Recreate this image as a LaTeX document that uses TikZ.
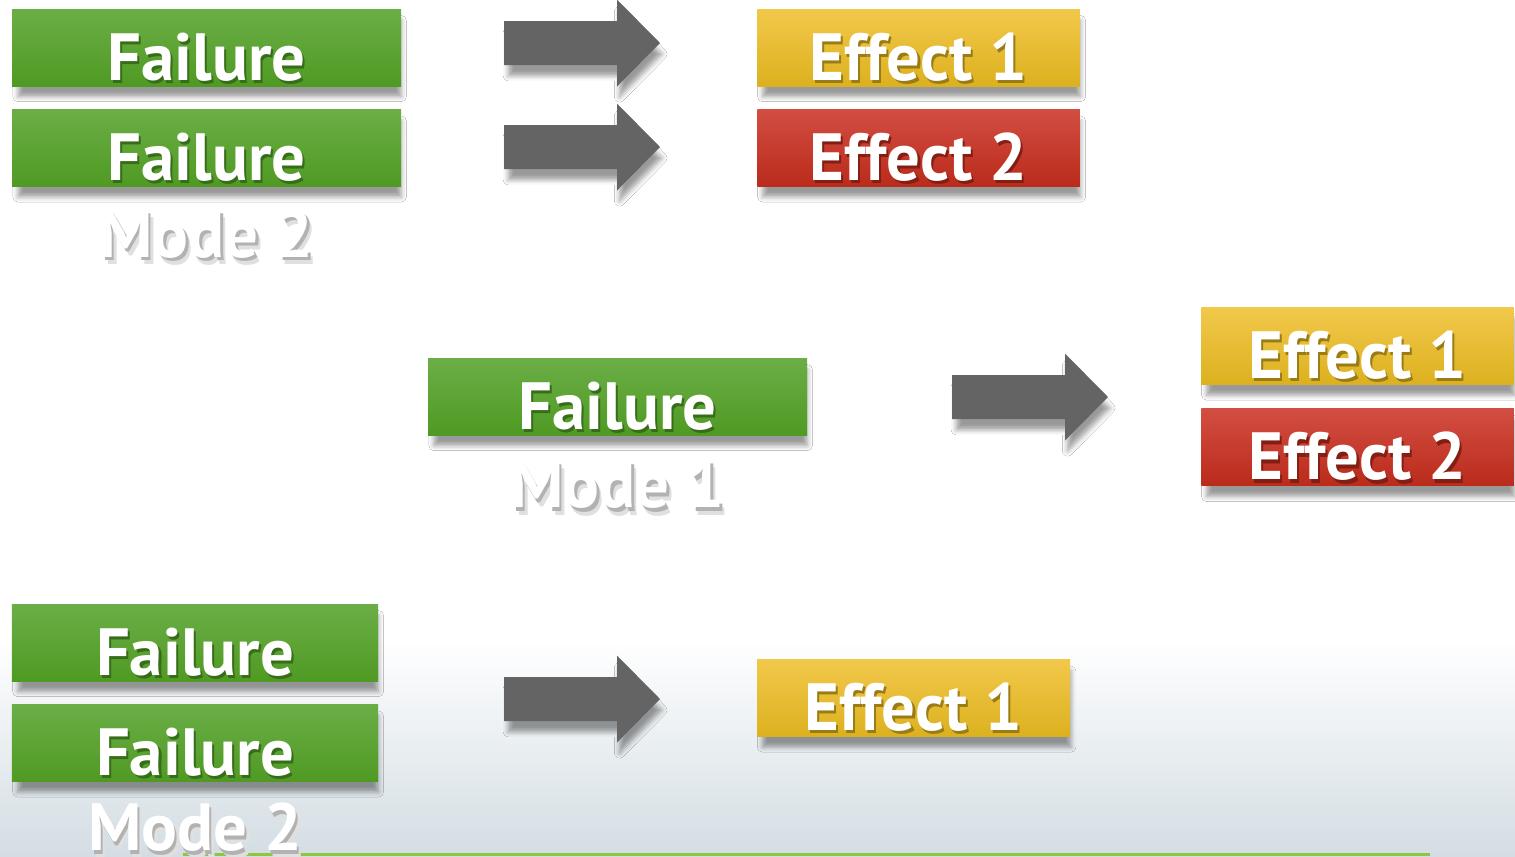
\documentclass[tikz,border=0pt]{standalone}
\usepackage{fontspec}
\setmainfont{PT Sans}
\usepackage{tikz}
\usetikzlibrary{positioning, shadows.blur}
\usepackage{color}

\definecolor{greentop}{HTML}{6BAE47}
\definecolor{greenbot}{HTML}{4F9A23}
\definecolor{yellowtop}{HTML}{F2C84B}
\definecolor{yellowbot}{HTML}{DCB11F}
\definecolor{redtop}{HTML}{D24E42}
\definecolor{redbot}{HTML}{BA2B1B}
\definecolor{arrowgray}{HTML}{646464}
\definecolor{bgblue}{HTML}{D3DDE3}
\definecolor{linegreen}{HTML}{8DC63F}

% white text with a small dark copy behind it
\newcommand{\shtext}[2]{\leavevmode\rlap{\hspace{0.6pt}\raisebox{-0.9pt}{\textcolor{#1}{#2}}}#2}
\newcommand{\softtext}[1]{\leavevmode\rlap{\hspace{1.4pt}\raisebox{-2.1pt}{\textcolor{black!12}{#1}}}\rlap{\hspace{0.7pt}\raisebox{-1.1pt}{\textcolor{black!30}{#1}}}#1}

\begin{document}
\begin{tikzpicture}[
            node distance = 0.22cm, % gap between stacked boxes
            boxshadow/.style = {blur shadow={shadow xshift=0.9pt, shadow yshift=-3.2pt,
                shadow scale=0.985, shadow blur radius=1.5pt, shadow opacity=40}},
            blockarrow/.pic = {
                \fill[arrowgray, boxshadow] (0,-0.22) -- (1.13,-0.22) -- (1.13,-0.435)
                    -- (1.56,0) -- (1.13,0.435) -- (1.13,0.22) -- (0,0.22) -- cycle;
            }
        ]

        \tikzstyle{box}=[
            rectangle,
            inner sep = 0pt,
            minimum height = 0.77cm,
            text height = 0.71cm,
            text depth = 0.06cm,
            text = white,
            font = \bfseries\fontsize{19}{22}\selectfont,
            boxshadow
        ]
        \tikzstyle{failbox}=[box, top color=greentop, bottom color=greenbot]
        \tikzstyle{yellowbox}=[box, top color=yellowtop, bottom color=yellowbot]
        \tikzstyle{redbox}=[box, top color=redtop, bottom color=redbot]
        \tikzstyle{mode}=[
            anchor = base,
            inner sep = 0pt,
            text = white,
            font = \bfseries\fontsize{19}{22}\selectfont
        ]

        \useasboundingbox (0,0) rectangle (15.15,-8.56);

        % background
        \fill[white] (0,0) rectangle (15.15,-8.56);
        \shade[top color=white, bottom color=bgblue] (0,-6.4) rectangle (15.15,-8.56);
        \fill[linegreen] (1.83,-8.53) rectangle (14.30,-8.56);

        % top row
        \node[failbox, minimum width=3.89cm] (fail_1) at (2.065,-0.475) {\shtext{greenbot!70!black}{Failure}};
        \node[failbox, minimum width=3.89cm] (fail_2) [below=of fail_1] {\shtext{greenbot!70!black}{Failure}};
        \node[mode] (mode_2) at ([yshift=-0.70cm]fail_2.south) {\softtext{Mode 2}};

        \pic (arr_1) at (5.04,-0.43) {blockarrow};
        \pic (arr_2) at (5.04,-1.47) {blockarrow};

        \node[yellowbox, minimum width=3.225cm] (eff_1) at (9.185,-0.475) {\shtext{yellowbot!70!black}{Effect 1}};
        \node[redbox, minimum width=3.225cm] (eff_2) [below=of eff_1] {\shtext{redbot!70!black}{Effect 2}};

        % middle row
        \node[failbox, minimum width=3.79cm] (fail_m) at (6.175,-3.965) {\shtext{greenbot!70!black}{Failure}};
        \node[mode] (mode_1) at ([yshift=-0.72cm]fail_m.south) {\softtext{Mode 1}};

        \pic (arr_m) at (9.52,-3.97) {blockarrow};

        \node[yellowbox, minimum width=3.125cm] (eff_m1) at (13.575,-3.46) {\shtext{yellowbot!70!black}{Effect 1}};
        \node[redbox, minimum width=3.125cm] (eff_m2) [below=0.23cm of eff_m1] {\shtext{redbot!70!black}{Effect 2}};

        % bottom row
        \node[failbox, minimum width=3.66cm] (fail_b1) at (1.95,-6.425) {\shtext{greenbot!70!black}{Failure}};
        \node[failbox, minimum width=3.66cm] (fail_b2) [below=of fail_b1] {\shtext{greenbot!70!black}{Failure}};
        \node[mode] (mode_b) at ([yshift=-0.68cm]fail_b2.south) {\softtext{Mode 2}};

        \pic (arr_b) at (5.04,-6.99) {blockarrow};

        \node[yellowbox, minimum width=3.13cm] (eff_b1) at (9.135,-6.98) {\shtext{yellowbot!70!black}{Effect 1}};

    \end{tikzpicture}
\end{document}
